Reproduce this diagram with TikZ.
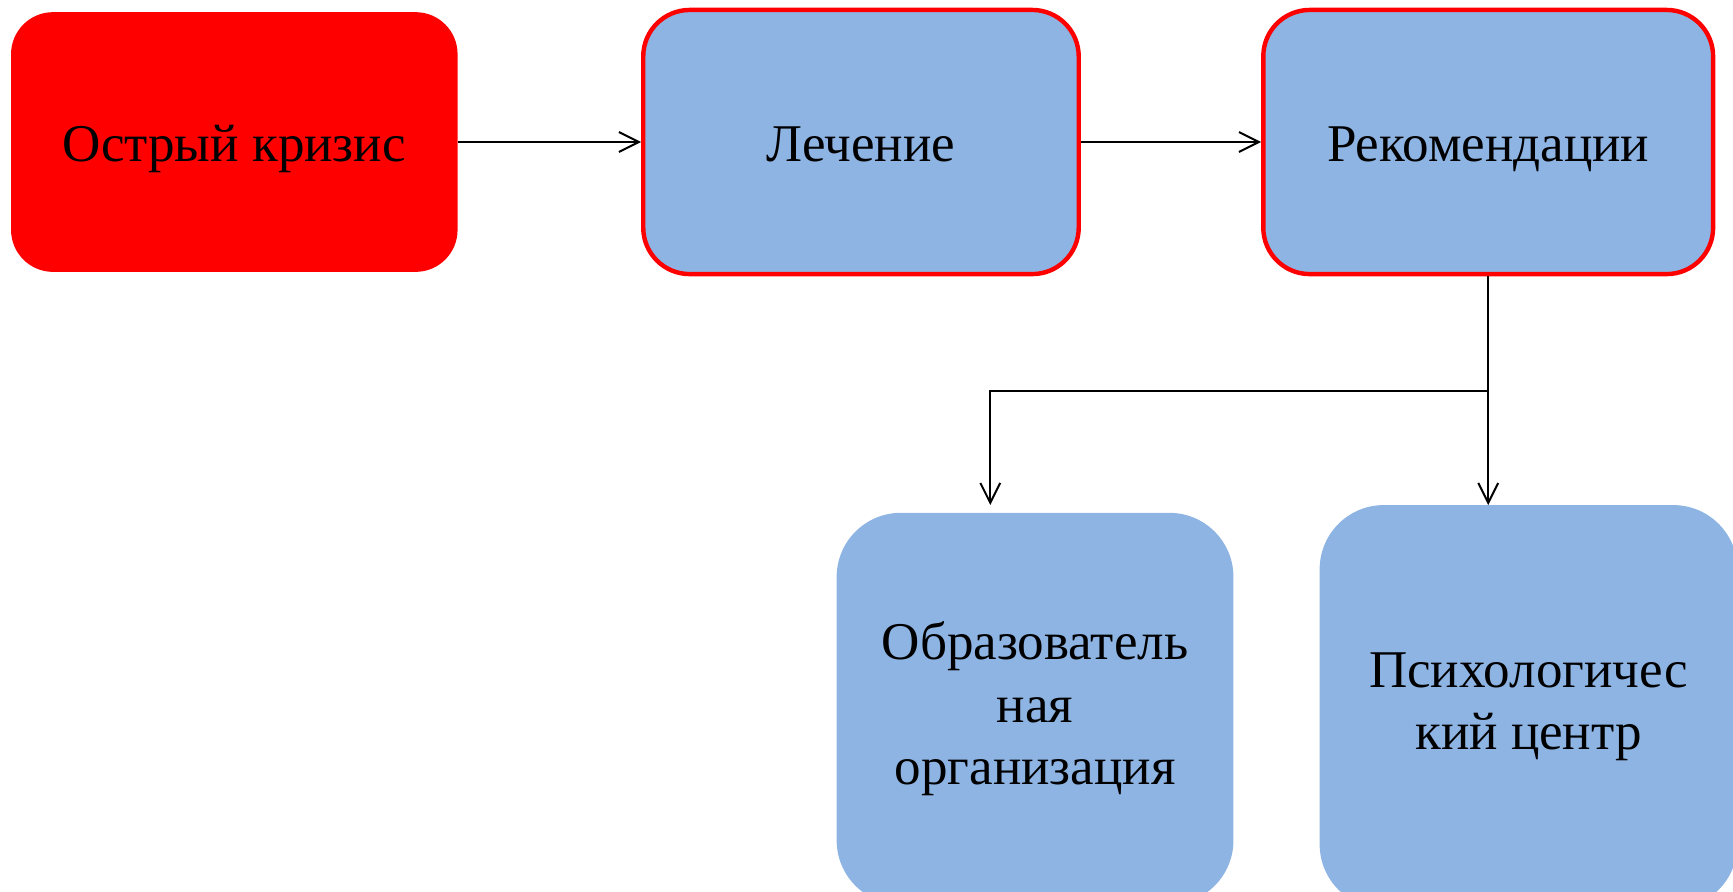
\documentclass[tikz,border=0pt]{standalone}
\usepackage{fontspec}
\setmainfont{Liberation Serif}
\usetikzlibrary{arrows.meta,calc}
\definecolor{boxblue}{HTML}{8EB4E3}
\definecolor{boxred}{HTML}{FF0000}
\begin{document}
\begin{tikzpicture}[x=0.5pt,y=-0.5pt,
  every node/.style={font=\fontsize{24}{28.3}\selectfont, align=center, inner sep=0pt},
  redbox/.style={fill=boxred, draw=none, rounded corners=19pt, minimum width=202pt, minimum height=117.5pt, text height=17.5pt, text depth=0pt},
  topbox/.style={fill=boxblue, draw=boxred, line width=2pt, rounded corners=21pt, minimum height=119.5pt, text height=17.5pt, text depth=0pt},
  lowbox/.style={fill=boxblue, draw=none, rounded corners=29pt},
  conn/.style={line width=0.9pt, -{Straight Barb[length=9pt,width=9pt,line width=0.9pt]}}
]
\useasboundingbox (0,0) rectangle (1568,807);
\clip (0,0) rectangle (1568,807);
\node[redbox] (b1) at (212,128.5) {Острый кризис};
\node[topbox, minimum width=197pt] (b2) at (779,128.5) {Лечение};
\node[topbox, minimum width=203.5pt] (b3) at (1346.5,128.5) {Рекомендации};
\node[lowbox, minimum width=179.5pt, minimum height=177.2pt] (b4) at (936.5,641.2) {Образователь\\ная\\организация};
\node[lowbox, minimum width=189pt, minimum height=182.5pt] (b5) at (1383,639.5) {Психологичес\\кий центр};
\coordinate (j) at (1347,354);
\coordinate (t4) at (896,457);
\draw[conn] (b1.east) -- (b2.west);
\draw[conn] (b2.east) -- (b3.west);
\draw[conn] (b3.south) -- (b3.south |- t4);
\draw[conn] (b3.south |- j) -| (t4);
\end{tikzpicture}
\end{document}
